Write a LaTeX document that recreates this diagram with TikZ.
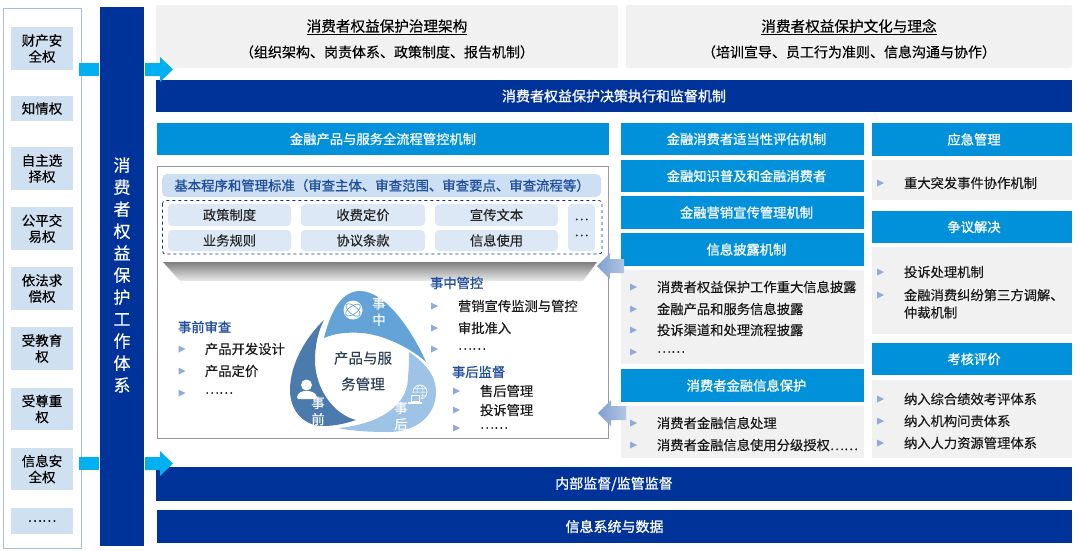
\documentclass[tikz,border=0pt]{standalone}
\usepackage{fontspec}
\setmainfont{Noto Sans CJK SC}[FakeBold=0.25,BoldFont={Noto Sans CJK SC},BoldFeatures={FakeBold=1.0}]
\usetikzlibrary{calc}
\definecolor{navy}{HTML}{00339A}
\definecolor{midblue}{HTML}{0091DA}
\definecolor{cyanarrow}{HTML}{00B0F0}
\definecolor{paleg}{HTML}{F1F1F1}
\definecolor{lbox}{HTML}{CFE0F1}
\definecolor{cellc}{HTML}{DCE8F5}
\definecolor{stdbar}{HTML}{CDDFF2}
\definecolor{framec}{HTML}{A9BFE0}
\definecolor{headt}{HTML}{1F4E9E}
\definecolor{bulc}{HTML}{8FAADC}
\definecolor{larrow}{HTML}{7F9FD0}
\definecolor{petalA}{HTML}{4A7BAC}
\definecolor{petalB}{HTML}{64A3D8}
\definecolor{petalC}{HTML}{9DC3E6}
\definecolor{ctext}{HTML}{2F4057}
\newcounter{autonode}
\tikzset{
  base/.style={inner sep=0pt,outer sep=0pt,align=center,font=\fontsize{13.3}{16}\selectfont},
  navybar/.style={base,fill=navy,text=white,font=\fontsize{14}{16}\selectfont\bfseries},
  midbar/.style={base,fill=midblue,text=white,font=\fontsize{13.3}{16}\selectfont\bfseries},
  panel/.style={base,fill=paleg},
  toppanel/.style={base,fill=paleg,rounded corners=2pt,text=black},
  leftbox/.style={base,fill=lbox,text=black,font=\fontsize{13.5}{16}\selectfont},
  cell/.style={base,fill=cellc,rounded corners=4pt,text=black!85},
  label/.style={base,anchor=west,text=black!90},
  heading/.style={base,anchor=west,text=headt,font=\fontsize{13.3}{16}\selectfont\bfseries},
  bartext/.style={base,text=white,font=\fontsize{13.3}{16}\selectfont\bfseries},
  petaltext/.style={base,text=white,font=\fontsize{13.3}{16.5}\selectfont},
  bulletmark/.style={fill=bulc},
}
% \rbox{style}{x1}{y1}{x2}{y2}{text}
\newcommand{\rbox}[6]{%
  \stepcounter{autonode}%
  \pgfmathsetmacro{\rw}{#4-#2}\pgfmathsetmacro{\rh}{#5-#3}%
  \pgfmathsetmacro{\rx}{(#2+#4)/2}\pgfmathsetmacro{\ry}{(#3+#5)/2}%
  \node[#1,minimum width=\rw pt,minimum height=\rh pt] (b\theautonode) at (\rx,\ry) {#6};}
% bar with an off-centre text: \tbar{x1}{y1}{x2}{y2}{text x}{text}
\newcommand{\tbar}[6]{%
  \rbox{midbar}{#1}{#2}{#3}{#4}{}%
  \stepcounter{autonode}%
  \pgfmathsetmacro{\ry}{(#2+#4)/2}%
  \node[bartext] (x\theautonode) at (#5,\ry) {#6};}
% \item line with bullet: \bl{bx}{tx}{y}{text}
\newcommand{\bl}[4]{%
  \stepcounter{autonode}%
  \fill[bulletmark] (#1,#3-3.5) -- (#1+7,#3) -- (#1,#3+3.5) -- cycle;
  \node[label] (t\theautonode) at (#2,#3) {#4};}
\newcommand{\hd}[3]{%
  \stepcounter{autonode}%
  \node[heading] (h\theautonode) at (#1,#2) {#3};}
\begin{document}
\begin{tikzpicture}[x=1pt,y=-1pt]
\useasboundingbox (0,0) rectangle (1080,550);
\fill[white] (0,0) rectangle (1080,550);

% left frame
\draw[framec,line width=1pt] (3,8) rectangle (81,548);
\rbox{leftbox}{11}{27}{73}{70}{财产安\\全权}
\rbox{leftbox}{11}{96}{73}{121}{知情权}
\rbox{leftbox}{11}{147}{73}{190}{自主选\\择权}
\rbox{leftbox}{11}{207}{73}{250}{公平交\\易权}
\rbox{leftbox}{11}{267}{73}{310}{依法求\\偿权}
\rbox{leftbox}{11}{327}{73}{370}{受教育\\权}
\rbox{leftbox}{11}{388}{73}{430}{受尊重\\权}
\rbox{leftbox}{11}{448}{73}{490}{信息安\\全权}
\rbox{leftbox}{11}{508}{73}{534}{……}

% column
\rbox{navybar}{100}{7}{144}{546}{}
\node[base,text=white,font=\fontsize{17}{22}\selectfont] (coltext) at (122,275)
  {消\\费\\者\\权\\益\\保\\护\\工\\作\\体\\系};

% top panels
\rbox{toppanel}{156}{5}{618}{68}{}
\rbox{toppanel}{626}{5}{1072}{68}{}
\node[base,text=black,font=\fontsize{14.6}{16}\selectfont] (tt1) at (387,27) {\underline{消费者权益保护治理架构}};
\node[base,text=black,font=\fontsize{14}{16}\selectfont] (ts1) at (387,52) {（组织架构、岗责体系、政策制度、报告机制）};
\node[base,text=black,font=\fontsize{14.6}{16}\selectfont] (tt2) at (849,27) {\underline{消费者权益保护文化与理念}};
\node[base,text=black,font=\fontsize{14}{16}\selectfont] (ts2) at (849,52) {（培训宣导、员工行为准则、信息沟通与协作）};

\rbox{navybar}{156}{80}{1072}{112}{消费者权益保护决策执行和监督机制}
\rbox{midbar}{157}{123}{609}{155}{金融产品与服务全流程管控机制}

% main frame
\draw[black!40,line width=1pt,fill=white] (157.5,166.5) rectangle (608.5,438.5);
\rbox{base,fill=stdbar,rounded corners=5pt}{162}{174}{601}{197}{}
\node[base,text=headt,font=\fontsize{13.4}{16}\selectfont\bfseries] (stdtext) at (382,185.5) {基本程序和管理标准（审查主体、审查范围、审查要点、审查流程等）};
\draw[navy,dashed,line width=0.8pt,rounded corners=3pt] (162.5,200.5) rectangle (602,254);
\rbox{cell}{168}{204}{291}{226}{政策制度}
\rbox{cell}{301}{204}{425}{226}{收费定价}
\rbox{cell}{435}{204}{558}{226}{宣传文本}
\rbox{cell}{168}{230}{291}{251}{业务规则}
\rbox{cell}{301}{230}{425}{251}{协议条款}
\rbox{cell}{435}{230}{558}{251}{信息使用}
\rbox{cell}{568}{204}{595}{251}{…\\…}

% shadow trapezoid
\shade[top color=black!50,bottom color=black!8] (163,262) -- (597,262) -- (583,281) -- (180,281) -- cycle;

% cycle
\fill[petalB] (324,338) .. controls (331,310) and (342,291) .. (360,291)
  .. controls (385,291) and (412,330) .. (426,362)
  .. controls (412,349) and (385,335) .. (362,333)
  .. controls (348,332) and (335,333) .. (324,338) -- cycle;
\fill[petalA] (324,320) .. controls (305,338) and (290,365) .. (290,390)
  .. controls (290,412) and (305,426) .. (323,426)
  .. controls (336,426) and (347,423) .. (356,420)
  .. controls (335,415) and (315,390) .. (315,360)
  .. controls (315,345) and (318,332) .. (324,320) -- cycle;
\fill[petalC] (409,352) .. controls (424,362) and (436,375) .. (436,392)
  .. controls (436,415) and (417,432) .. (388,432)
  .. controls (370,432) and (352,431) .. (338,428)
  .. controls (352,427) and (368,423) .. (380,417)
  .. controls (397,408) and (408,395) .. (408,377)
  .. controls (409,368) and (409,360) .. (409,352) -- cycle;
% icons
\fill[white] (353,310) circle (9.5);
\draw[petalB,line width=0.7pt,rotate around={35:(353,310)}] (353,310) ellipse (8.5 and 4);
\draw[petalB,line width=0.7pt,rotate around={-40:(353,310)}] (353,310) ellipse (8.5 and 4);
\fill[white] (306.5,385) circle (5.5);
\fill[white,rounded corners=2pt] (297,399) -- (297,395) -- (302,391) -- (311,391) -- (317,395) -- (317,399) -- cycle;
\draw[white,line width=0.7pt] (420,392) circle (7);
\draw[white,line width=0.5pt] (420,392) ellipse (3 and 7) (413,392) -- (427,392) (414,388.5) -- (426,388.5) (414,395.5) -- (426,395.5);
\fill[petalC] (409,393) rectangle (421,405);
\draw[white,line width=0.8pt] (411,395) rectangle (419,401.5);
\draw[white,line width=1.2pt] (408,403) -- (422,403);
\node[petaltext] (p1) at (379,311.5) {事\\中};
\node[petaltext] (p2) at (318,411) {事\\前};
\node[petaltext] (p3) at (401,416) {事\\后};
\node[base,text=ctext,font=\fontsize{14.5}{26}\selectfont] (pc) at (363,371) {产品与服\\务管理};

\hd{178}{327}{事前审查}
\bl{178.5}{205}{349}{产品开发设计}
\bl{178.5}{205}{371}{产品定价}
\bl{178.5}{205}{393}{……}
\hd{430}{283}{事中管控}
\bl{431}{458}{306}{营销宣传监测与管控}
\bl{431}{458}{328}{审批准入}
\bl{431}{458}{349}{……}
\hd{452}{372}{事后监督}
\bl{453}{480}{391}{售后管理}
\bl{453}{480}{410}{投诉管理}
\bl{453}{480}{428}{……}

% column 2
\tbar{621}{123}{864}{155}{746.5}{金融消费者适当性评估机制}
\tbar{621}{160}{864}{192}{746.5}{金融知识普及和金融消费者}
\tbar{621}{196}{864}{229}{746.5}{金融营销宣传管理机制}
\tbar{621}{233}{864}{266}{746.5}{信息披露机制}
\rbox{panel}{621}{270}{864}{364}{}
\tbar{621}{369}{864}{402}{746.5}{消费者金融信息保护}
\rbox{panel}{621}{406}{864}{458}{}
\bl{630}{657}{287}{消费者权益保护工作重大信息披露}
\bl{630}{657}{309}{金融产品和服务信息披露}
\bl{630}{657}{330}{投诉渠道和处理流程披露}
\bl{630}{657}{352}{……}
\bl{630}{657}{423}{消费者金融信息处理}
\bl{630}{657}{445}{消费者金融信息使用分级授权……}

% column 3
\tbar{872}{123}{1072}{156}{974}{应急管理}
\rbox{panel}{872}{160}{1072}{200}{}
\tbar{872}{211}{1072}{243}{974}{争议解决}
\rbox{panel}{872}{247}{1072}{334}{}
\tbar{872}{343}{1072}{375}{974}{考核评价}
\rbox{panel}{872}{380}{1072}{458}{}
\bl{877}{904}{183}{重大突发事件协作机制}
\bl{877}{904}{272}{投诉处理机制}
\bl{877}{904}{295}{金融消费纠纷第三方调解、}
\node[label] (t3b) at (904,312.5) {仲裁机制};
\bl{877}{904}{399}{纳入综合绩效考评体系}
\bl{877}{904}{421}{纳入机构问责体系}
\bl{877}{904}{443}{纳入人力资源管理体系}

% bottom
\rbox{navybar}{156}{467}{1072}{501}{内部监督/监管监督}
\rbox{navybar}{157}{510}{1072}{543}{信息系统与数据}

% arrows, on top of the panels and bars
\fill[cyanarrow] (79,63) rectangle (99,76);
\fill[cyanarrow] (79,457) rectangle (99,470);
\fill[cyanarrow] (145,63) -- (160,63) -- (160,57) -- (173,69.5) -- (160,82) -- (160,76) -- (145,76) -- cycle;
\fill[cyanarrow] (145,457) -- (160,457) -- (160,451) -- (173,463.5) -- (160,476) -- (160,470) -- (145,470) -- cycle;
\shade[left color=larrow,right color=larrow!60] (597,266) -- (610,253) -- (610,259) -- (624,259) -- (624,273) -- (610,273) -- (610,279) -- cycle;
\shade[left color=larrow,right color=larrow!60] (598,413) -- (611,400) -- (611,406) -- (626,406) -- (626,420) -- (611,420) -- (611,426) -- cycle;
\end{tikzpicture}
\end{document}
